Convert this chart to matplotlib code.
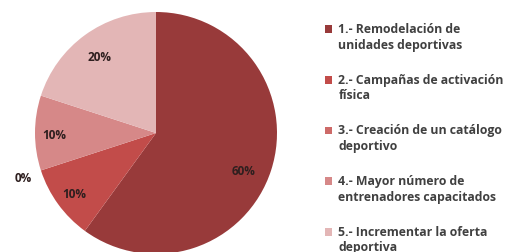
import numpy as np
import matplotlib
matplotlib.use('Agg')
import matplotlib.pyplot as plt
from matplotlib.patches import Patch, Rectangle
from matplotlib.legend_handler import HandlerPatch

categorias = ['1.- Remodelación de\nunidades deportivas',
              '2.- Campañas de activación\nfísica',
              '3.- Creación de un catálogo\ndeportivo',
              '4.- Mayor número de\nentrenadores capacitados',
              '5.- Incrementar la oferta\ndeportiva']
porcentajes = [60, 10, 0, 10, 20]
etiquetas = ['60%', '10%', '0%', '10%', '20%']

colores = ['#983a3a', '#c24c4a', '#cd6a68', '#d68888', '#e3b6b6']
# label placement: distance from centre (radius = 1) and small angle nudge
distancias = [0.78, 0.83, 1.15, 0.84, 0.80]
giro = [-4.5, 0, 0, 0, 0]

plt.rcParams['font.family'] = ['Open Sans', 'DejaVu Sans']

fig = plt.figure(figsize=(5.08, 2.53), dpi=100)
ax = fig.add_axes([(156 - 121) / 508, (119 - 121) / 253, 242 / 508, 242 / 253])

wedges, _ = ax.pie(porcentajes, colors=colores, startangle=90, counterclock=False,
                   radius=1, wedgeprops={'linewidth': 0})
ax.set_xlim(-1.0, 1.0)
ax.set_ylim(-1.0, 1.0)
ax.set_aspect('auto')
ax.axis('off')

for w, txt, d, g in zip(wedges, etiquetas, distancias, giro):
    ang = np.deg2rad((w.theta1 + w.theta2) / 2 + g)
    ax.text(d * np.cos(ang), d * np.sin(ang), txt, ha='center', va='center_baseline',
            fontsize=8.5, fontweight='bold', color='#2e1f1f')


def cuadro_arriba(legend, orig_handle, xdescent, ydescent, width, height, fontsize):
    # square aligned with the first text line instead of the middle of the entry
    return Rectangle((-xdescent, -ydescent + 0.65 * fontsize), width, height)


handles = [Patch(facecolor=c, edgecolor='none') for c in colores]
leg = fig.legend(handles, categorias, loc='upper left', bbox_to_anchor=(325 / 508, 1 - 23 / 253),
                 frameon=False, fontsize=8.8, handlelength=0.6, handleheight=0.6,
                 handletextpad=0.5, labelspacing=1.8, borderaxespad=0, borderpad=0,
                 handler_map={Patch: HandlerPatch(patch_func=cuadro_arriba)})
for t in leg.get_texts():
    t.set_color('#404040')
    t.set_fontweight('bold')
    t.set_linespacing(1.27)

fig.savefig('out.png', dpi=100)
